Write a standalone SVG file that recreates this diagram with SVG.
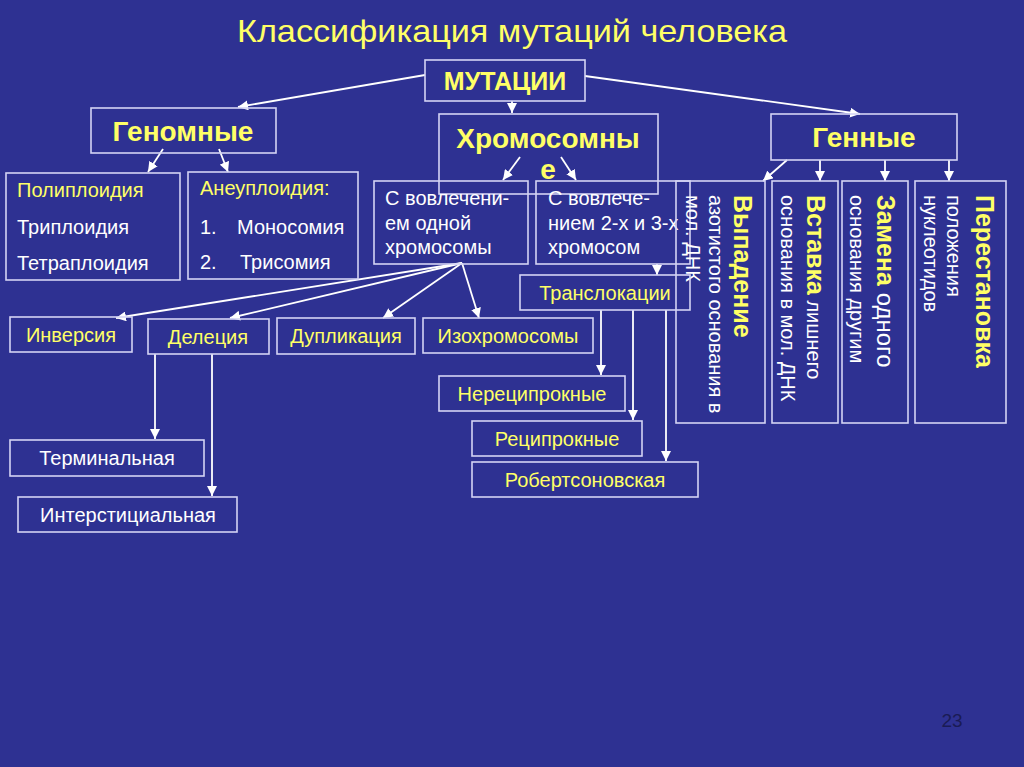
<svg xmlns="http://www.w3.org/2000/svg" width="1024" height="767" viewBox="0 0 1024 767">
<defs>
<marker id="ah" markerUnits="userSpaceOnUse" markerWidth="10" markerHeight="10" viewBox="0 0 10 10" refX="10" refY="5" orient="auto">
<path d="M0,0 L10,5 L0,10 z" fill="#FFFFFF"/>
</marker>
<style>
.box{fill:none;stroke:#D4D4F4;stroke-width:1.6}
.c{stroke:#FFFFFF;stroke-width:1.8;fill:none}
.a{marker-end:url(#ah)}
.t{font-family:"Liberation Sans",Arial,sans-serif}
.y{fill:#FFFF66}
.w{fill:#FFFFFF}
.h{font-weight:bold;font-size:28px}
.n{font-size:20px}
.m{text-anchor:middle}
.vb{font-weight:bold;font-size:25px}
</style>
</defs>
<rect x="0" y="0" width="1024" height="767" fill="#2E3192"/>
<text class="t y m" x="512" y="42" font-size="32" textLength="550" lengthAdjust="spacingAndGlyphs">Классификация мутаций человека</text>
<text class="t" x="952" y="727" font-size="19" fill="#1A1B55" text-anchor="middle">23</text>

<g id="connectors">
<line class="c a" x1="425" y1="75" x2="238" y2="107"/>
<line class="c a" x1="585" y1="76" x2="860" y2="114"/>
<line class="c a" x1="512" y1="101" x2="512" y2="113"/>
<line class="c a" x1="163" y1="149" x2="148" y2="172"/>
<line class="c a" x1="219" y1="149" x2="228" y2="172"/>
<line class="c a" x1="520" y1="157" x2="503" y2="180"/>
<line class="c a" x1="561" y1="157" x2="576" y2="180"/>
<line class="c a" x1="787" y1="160" x2="763" y2="181"/>
<line class="c a" x1="820" y1="160" x2="820" y2="181"/>
<line class="c a" x1="885" y1="160" x2="885" y2="181"/>
<line class="c a" x1="949" y1="160" x2="949" y2="181"/>
<line class="c a" x1="462" y1="263" x2="116" y2="318"/>
<line class="c a" x1="462" y1="263" x2="230" y2="318"/>
<line class="c a" x1="462" y1="263" x2="383" y2="318"/>
<line class="c a" x1="462" y1="263" x2="479" y2="318"/>
<line class="c a" x1="657" y1="264" x2="657" y2="275"/>
<line class="c a" x1="155" y1="354" x2="155" y2="439"/>
<line class="c a" x1="212" y1="354" x2="212" y2="496"/>
<line class="c a" x1="601" y1="310" x2="601" y2="375"/>
<line class="c a" x1="633" y1="310" x2="633" y2="420"/>
<line class="c a" x1="666" y1="310" x2="666" y2="461"/>
</g>

<g id="mutacii">
<rect class="box" x="425" y="60" width="160" height="41"/>
<text class="t y m" x="505" y="90" font-size="25" font-weight="bold">МУТАЦИИ</text>
</g>
<g id="genomnye">
<rect class="box" x="91" y="108" width="185" height="45"/>
<text class="t y m h" x="183" y="141">Геномные</text>
</g>
<g id="hromosomnye">
<rect class="box" x="439" y="114" width="219" height="80"/>
<text class="t y m h" x="548" y="148">Хромосомны</text>
<text class="t y m h" x="548" y="179">е</text>
</g>
<g id="gennye">
<rect class="box" x="771" y="114" width="186" height="46"/>
<text class="t y m h" x="864" y="147">Генные</text>
</g>

<g id="poliploidiya">
<rect class="box" x="6" y="173" width="174" height="107"/>
<text class="t y n" x="17" y="197">Полиплоидия</text>
<text class="t w n" x="17" y="234">Триплоидия</text>
<text class="t w n" x="17" y="270">Тетраплоидия</text>
</g>
<g id="aneuploidiya">
<rect class="box" x="188" y="172" width="170" height="107"/>
<text class="t y n" x="200" y="195">Анеуплоидия:</text>
<text class="t w n" x="200" y="234">1.</text>
<text class="t w n" x="237" y="234">Моносомия</text>
<text class="t w n" x="200" y="269">2.</text>
<text class="t w n" x="240" y="269">Трисомия</text>
</g>
<g id="odna">
<rect class="box" x="374" y="181" width="154" height="83"/>
<text class="t w n" x="385" y="205">С вовлечени-</text>
<text class="t w n" x="385" y="230">ем одной</text>
<text class="t w n" x="385" y="254">хромосомы</text>
</g>
<g id="dve-tri">
<rect class="box" x="536" y="181" width="154" height="83"/>
<text class="t w n" x="548" y="205">С вовлече-</text>
<text class="t w n" x="548" y="230">нием 2-х и 3-х</text>
<text class="t w n" x="548" y="254">хромосом</text>
</g>

<g id="vypadenie">
<rect class="box" x="676" y="181" width="89" height="242"/>
<text class="t y vb" transform="translate(734,195) rotate(90)">Выпадение</text>
<text class="t w n" transform="translate(709,195) rotate(90)">азотистого основания в</text>
<text class="t w n" transform="translate(686,195) rotate(90)">мол. ДНК</text>
</g>
<g id="vstavka">
<rect class="box" x="772" y="181" width="66" height="242"/>
<text class="t" transform="translate(807,195) rotate(90)"><tspan class="y vb">Вставка</tspan><tspan class="w" font-size="20"> лишнего</tspan></text>
<text class="t w n" transform="translate(781,195) rotate(90)">основания в мол. ДНК</text>
</g>
<g id="zamena">
<rect class="box" x="842" y="181" width="66" height="242"/>
<text class="t" transform="translate(877,195) rotate(90)"><tspan class="y vb">Замена</tspan><tspan class="w" font-size="24"> одного</tspan></text>
<text class="t w n" transform="translate(850,195) rotate(90)">основания другим</text>
</g>
<g id="perestanovka">
<rect class="box" x="915" y="181" width="91" height="242"/>
<text class="t y vb" transform="translate(976,195) rotate(90)">Перестановка</text>
<text class="t w n" transform="translate(947,195) rotate(90)">положения</text>
<text class="t w n" transform="translate(924,195) rotate(90)">нуклеотидов</text>
</g>

<g id="inversiya">
<rect class="box" x="10" y="317" width="122" height="35"/>
<text class="t y n m" x="71" y="342">Инверсия</text>
</g>
<g id="deleciya">
<rect class="box" x="148" y="319" width="121" height="35"/>
<text class="t y n m" x="208" y="344">Делеция</text>
</g>
<g id="duplikaciya">
<rect class="box" x="277" y="318" width="138" height="36"/>
<text class="t y n m" x="346" y="343">Дупликация</text>
</g>
<g id="izohromosomy">
<rect class="box" x="423" y="318" width="170" height="35"/>
<text class="t y n m" x="508" y="343">Изохромосомы</text>
</g>
<g id="terminalnaya">
<rect class="box" x="10" y="440" width="194" height="36"/>
<text class="t w n m" x="107" y="465">Терминальная</text>
</g>
<g id="intersticialnaya">
<rect class="box" x="18" y="497" width="219" height="35"/>
<text class="t w n m" x="128" y="522">Интерстициальная</text>
</g>
<g id="translokacii">
<rect class="box" x="520" y="275" width="170" height="35"/>
<text class="t y n m" x="605" y="300">Транслокации</text>
</g>
<g id="nereciproknye">
<rect class="box" x="439" y="376" width="186" height="35"/>
<text class="t y n m" x="532" y="401">Нереципрокные</text>
</g>
<g id="reciproknye">
<rect class="box" x="472" y="421" width="170" height="35"/>
<text class="t y n m" x="557" y="446">Реципрокные</text>
</g>
<g id="robertsonovskaya">
<rect class="box" x="472" y="462" width="226" height="35"/>
<text class="t y n m" x="585" y="487">Робертсоновская</text>
</g>
</svg>
